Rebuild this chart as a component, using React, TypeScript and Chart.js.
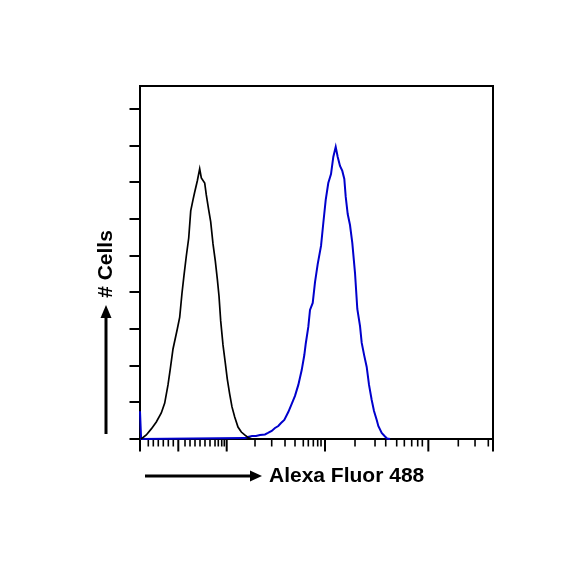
import React, { useEffect, useRef } from 'react';
import { Chart, registerables } from 'chart.js';

Chart.register(...registerables);

// Display channels (0..1000 across the biexponential axis) and cell counts
const isotypeX = [2.8, 8.5, 17.8, 32, 46.2, 60.3, 70, 79.3, 85.8, 93.5, 105.7, 112.5, 119, 124.7, 131.2, 138, 143.7, 150.1, 155, 162.3, 169.1, 173.7, 183.3, 187.8, 194.6, 200.3, 206.8, 213.3, 219, 223.8, 228.6, 235.1, 241.6, 247.3, 254.1, 260.6, 268.3, 277.6, 287, 296.6, 306, 317.3];
const isotypeY = [0, 0.8, 2.2, 5.5, 9.3, 14.2, 19.6, 29.5, 38.2, 49.1, 60, 66.5, 79.6, 89.4, 99.8, 109.6, 124.4, 130.4, 134.7, 140.7, 147.3, 142.4, 139.6, 133.1, 124.9, 118.4, 106.4, 97.1, 87.3, 78, 64.4, 51.3, 41.5, 32.7, 24.5, 17.5, 12, 6.5, 3.8, 2.2, 0.8, 0];

const stainedX = [0, 2.5, 3.2, 297.5, 306, 317.3, 328.6, 340, 354, 362.6, 373.1, 382.4, 391.8, 399.5, 408.8, 420.1, 429.8, 439.1, 448.5, 458.1, 465.5, 469.4, 476.8, 481.6, 489.3, 495.8, 503.4, 512.8, 519.3, 526.1, 533.4, 541.1, 547.6, 554.4, 560.1, 566.6, 573.1, 578.8, 582.8, 588.4, 594.9, 601.4, 609.1, 615.6, 623.3, 628.1, 635.4, 642.2, 648.8, 656.4, 662.9, 670.6, 675.1, 684.7, 694.1, 699.8, 708.3];
const stainedY = [15.1, 15.1, 0, 0.5, 1.1, 1.6, 1.6, 2.2, 2.5, 3.3, 4.4, 6, 7.1, 8.7, 10.4, 14.7, 19.1, 23.5, 29.5, 37.6, 45.8, 51.8, 61.1, 70.4, 74.2, 85.6, 95.4, 105.3, 117.8, 130.4, 139.6, 144.5, 153.8, 159.3, 153.8, 148.9, 146.2, 141.8, 132, 122.7, 116.7, 106.9, 90.5, 70.9, 61.6, 52.4, 45.3, 39.3, 29.5, 21.3, 15.3, 10.4, 7.1, 3.3, 1.4, 0.3, 0];

const yTickValues = [0, 20, 40, 60, 80, 100, 120, 140, 160, 180];
const xMajorTicks = [0, 108.5, 245.6, 524.1, 816.8, 1000];
const xMinorTicks = [23.5, 37.7, 51.8, 66, 80.2, 94.3, 127.5, 141.7, 155.8, 170, 184.1, 198.3, 212.5, 221.8, 231.5, 238.8, 325.8, 373.1, 410.8, 439.1, 462.6, 476.8, 491, 503.4, 512.8, 609.1, 665.8, 696.1, 727.2, 748.8, 769.7, 786.7, 799.8, 901.7, 949.1, 986.7];

const xAxisLabel = 'Alexa Fluor 488';
const yAxisLabel = '# Cells';

const toPoints = (xs: number[], ys: number[]) => xs.map((x, i) => ({ x, y: ys[i] }));

const framePlugin = {
  id: 'facsFrame',
  beforeDatasetsDraw(chart: any) {
    const { ctx, chartArea: a, scales } = chart;
    const xs = scales.x;
    const ys = scales.y;
    ctx.save();
    ctx.strokeStyle = '#000';
    ctx.lineWidth = 2;
    ctx.beginPath();
    ctx.moveTo(a.left, a.bottom);
    ctx.lineTo(a.left, a.top);
    ctx.lineTo(a.right, a.top);
    ctx.lineTo(a.right, a.bottom);
    ctx.lineTo(a.left, a.bottom);
    ctx.stroke();
    // y ticks
    yTickValues.forEach((v) => {
      const py = Math.round(ys.getPixelForValue(v));
      ctx.beginPath();
      ctx.moveTo(a.left - 10.5, py);
      ctx.lineTo(a.left, py);
      ctx.stroke();
    });
    // x ticks
    ctx.lineWidth = 1.6;
    xMinorTicks.forEach((v) => {
      const px = xs.getPixelForValue(v);
      ctx.beginPath();
      ctx.moveTo(px, a.bottom);
      ctx.lineTo(px, a.bottom + 7.5);
      ctx.stroke();
    });
    ctx.lineWidth = 2;
    xMajorTicks.forEach((v) => {
      const px = xs.getPixelForValue(v);
      ctx.beginPath();
      ctx.moveTo(px, a.bottom);
      ctx.lineTo(px, a.bottom + 12.5);
      ctx.stroke();
    });
    ctx.restore();
  },
  afterDraw(chart: any) {
    const { ctx } = chart;
    ctx.save();
    ctx.fillStyle = '#000';
    ctx.strokeStyle = '#000';
    ctx.font = 'bold 21px "Liberation Sans", Arial, sans-serif';
    // y label, rotated
    ctx.save();
    ctx.translate(106, 264);
    ctx.rotate(-Math.PI / 2);
    ctx.textAlign = 'center';
    ctx.textBaseline = 'middle';
    ctx.fillText(yAxisLabel, 0, 0);
    ctx.restore();
    // y arrow
    ctx.lineWidth = 3;
    ctx.beginPath();
    ctx.moveTo(106, 434);
    ctx.lineTo(106, 315);
    ctx.stroke();
    ctx.beginPath();
    ctx.moveTo(106, 305);
    ctx.lineTo(100.5, 318);
    ctx.lineTo(111.5, 318);
    ctx.closePath();
    ctx.fill();
    // x arrow
    ctx.beginPath();
    ctx.moveTo(145, 476);
    ctx.lineTo(252, 476);
    ctx.stroke();
    ctx.beginPath();
    ctx.moveTo(262, 476);
    ctx.lineTo(250, 470.5);
    ctx.lineTo(250, 481.5);
    ctx.closePath();
    ctx.fill();
    // x label
    ctx.textAlign = 'left';
    ctx.textBaseline = 'middle';
    ctx.fillText(xAxisLabel, 269, 476);
    ctx.restore();
  },
};

export default function App() {
  const canvasRef = useRef<HTMLCanvasElement | null>(null);

  useEffect(() => {
    if (!canvasRef.current) return;
    const chart = new Chart(canvasRef.current, {
      type: 'line',
      data: {
        datasets: [
          {
            label: 'Isotype control',
            data: toPoints(isotypeX, isotypeY),
            borderColor: '#000000',
            borderWidth: 1.7,
            pointRadius: 0,
            tension: 0,
            fill: false,
            clip: 6,
          },
          {
            label: 'Antibody',
            data: toPoints(stainedX, stainedY),
            borderColor: '#0000cc',
            borderWidth: 2,
            pointRadius: 0,
            tension: 0,
            fill: false,
            clip: 6,
          },
        ],
      },
      options: {
        animation: false,
        responsive: true,
        maintainAspectRatio: false,
        layout: { padding: { left: 140, right: 91, top: 86, bottom: 145 } },
        plugins: { legend: { display: false }, tooltip: { enabled: false } },
        scales: {
          x: { type: 'linear', min: 0, max: 1000, display: false },
          y: { type: 'linear', min: 0, max: 192.5, display: false },
        },
      },
      plugins: [framePlugin],
    });
    return () => chart.destroy();
  }, []);

  return (
    <div style={{ position: 'absolute', left: 0, top: 0, width: 584, height: 584, background: '#fff' }}>
      <canvas ref={canvasRef} />
    </div>
  );
}
